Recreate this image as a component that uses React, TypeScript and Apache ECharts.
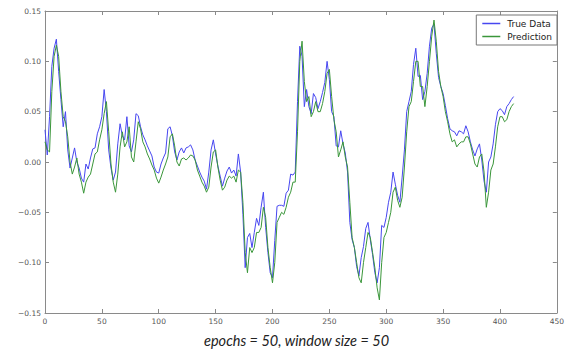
import React, { useEffect, useRef } from "react";
import * as echarts from "echarts";

const seriesNames = ["True Data", "Prediction"];
const sampleStep = 2; // one reading every 2 time steps, starting at 0
const caption = "epochs = 50, window size = 50";

const trueData = [
  0.032, 0.007, 0.045, 0.095, 0.113, 0.122, 0.09, 0.062, 0.035, 0.05,
  0.012, -0.006, 0.004, 0.014, 0.0, -0.006, -0.016, -0.02, -0.002, -0.007,
  0.004, 0.013, 0.014, 0.028, 0.035, 0.045, 0.072, 0.05, 0.012, -0.006,
  -0.018, -0.01, 0.018, 0.038, 0.026, 0.022, 0.045, 0.016, 0.01, 0.022,
  0.048, 0.046, 0.035, 0.027, 0.022, 0.016, 0.011, 0.006, -0.005, -0.01,
  -0.011, -0.002, 0.004, 0.009, 0.033, 0.035, 0.026, 0.01, 0.002, 0.01,
  0.014, 0.009, 0.014, 0.015, 0.017, 0.012, 0.002, -0.004, -0.01, -0.015,
  -0.019, -0.027, -0.01, 0.012, 0.022, 0.008, -0.004, -0.014, -0.024, -0.016,
  -0.009, -0.005, -0.011, -0.008, -0.014, 0.008, -0.01, -0.052, -0.105, -0.075,
  -0.071, -0.085, -0.07, -0.056, -0.063, -0.045, -0.03, -0.065, -0.09, -0.11,
  -0.115, -0.078, -0.044, -0.043, -0.043, -0.044, -0.031, -0.028, -0.012, -0.013,
  -0.01, 0.06, 0.115, 0.105, 0.055, 0.072, 0.055, 0.048, 0.068, 0.064,
  0.053, 0.06, 0.069, 0.079, 0.1, 0.082, 0.05, 0.045, 0.016, 0.015,
  0.031, 0.018, 0.009, -0.01, -0.06, -0.077, -0.085, -0.104, -0.113, -0.095,
  -0.084, -0.066, -0.06, -0.077, -0.092, -0.11, -0.12, -0.105, -0.063, -0.065,
  -0.055, -0.04, -0.03, -0.01, -0.022, -0.033, -0.04, -0.015, 0.012, 0.05,
  0.06, 0.07, 0.097, 0.113, 0.085, 0.086, 0.062, 0.07, 0.088, 0.115,
  0.133, 0.137, 0.108, 0.084, 0.075, 0.068, 0.056, 0.043, 0.033, 0.031,
  0.03, 0.026, 0.031, 0.03, 0.028, 0.036, 0.03, 0.02, 0.012, 0.006,
  0.013, 0.018, 0.002, -0.019, -0.03, 0.0, 0.005, 0.018, 0.037, 0.05,
  0.053, 0.051, 0.047, 0.055, 0.058, 0.062, 0.065,
];

const prediction = [
  0.02, 0.012, 0.01, 0.07, 0.105, 0.116, 0.105, 0.07, 0.045, 0.04,
  0.025, 0.0, -0.012, -0.005, 0.004, -0.012, -0.02, -0.031, -0.02, -0.015,
  -0.012, -0.002, 0.008, 0.01, 0.022, 0.032, 0.048, 0.06, 0.03, -0.002,
  -0.02, -0.03, -0.012, 0.015, 0.03, 0.015, 0.02, 0.035, 0.005, 0.0,
  0.02, 0.04, 0.033, 0.02, 0.015, 0.008, 0.003, -0.003, -0.008, -0.016,
  -0.021, -0.015, -0.008, -0.002, 0.005, 0.025, 0.028, 0.016, 0.0, -0.004,
  0.003, 0.004, 0.002, 0.004, 0.007, 0.006, 0.002, -0.008, -0.014, -0.02,
  -0.024, -0.03, -0.025, -0.005, 0.01, 0.012, -0.005, -0.018, -0.028, -0.025,
  -0.018, -0.014, -0.016, -0.014, -0.02, -0.008, -0.01, -0.04, -0.09, -0.11,
  -0.085, -0.09, -0.085, -0.07, -0.07, -0.065, -0.045, -0.055, -0.085, -0.105,
  -0.12, -0.1, -0.06, -0.055, -0.05, -0.052, -0.045, -0.035, -0.03, -0.02,
  -0.02, 0.03, 0.1, 0.12, 0.08, 0.06, 0.065, 0.045, 0.05, 0.06,
  0.05, 0.05, 0.058, 0.07, 0.088, 0.092, 0.065, 0.042, 0.03, 0.005,
  0.012, 0.02, 0.005, -0.005, -0.04, -0.075, -0.085, -0.1, -0.115, -0.12,
  -0.1, -0.085, -0.07, -0.075, -0.09, -0.105, -0.125, -0.137, -0.1, -0.075,
  -0.07, -0.06, -0.05, -0.03, -0.025, -0.038, -0.045, -0.035, -0.005, 0.03,
  0.055, 0.06, 0.08, 0.1, 0.1, 0.075, 0.075, 0.055, 0.075, 0.1,
  0.125, 0.141, 0.12, 0.09, 0.075, 0.065, 0.05, 0.04, 0.028, 0.02,
  0.022, 0.015, 0.018, 0.02, 0.02, 0.025, 0.025, 0.018, 0.008, -0.002,
  -0.005, 0.005, 0.008, -0.01, -0.045, -0.03, -0.008, -0.002, 0.015, 0.035,
  0.045, 0.045, 0.04, 0.042, 0.05, 0.055, 0.058,
];

const xMin = 0;
const xMax = 450;
const xInterval = 50;
const yMin = -0.15;
const yMax = 0.15;
const yInterval = 0.05;

const fmtY = (v: number) => {
  const s = Math.abs(v).toFixed(2);
  return v < -1e-9 ? "\u2212" + s : s;
};

export default function App() {
  const ref = useRef<HTMLDivElement>(null);
  useEffect(() => {
    if (!ref.current) return;
    const chart = echarts.init(ref.current, null, { renderer: "svg" });
    const toPairs = (arr: number[]) => arr.map((v, i) => [i * sampleStep, v]);
    const axisCommon = {
      type: "value" as const,
      splitLine: { show: false },
      axisLine: { show: true, onZero: false, lineStyle: { color: "#8a8a8a", width: 1 } },
      axisTick: { show: true, inside: true, length: 4, lineStyle: { color: "#8a8a8a" } },
    };
    const labelStyle = { fontFamily: "DejaVu Sans", fontSize: 7.5, color: "#555" };
    chart.setOption({
      animation: false,
      backgroundColor: "#ffffff",
      grid: { left: 45, right: 5, top: 11, bottom: 40, containLabel: false },
      legend: {
        orient: "vertical",
        right: 10,
        top: 15,
        data: seriesNames.map((n) => ({ name: n, icon: "rect" })),
        itemWidth: 18,
        itemHeight: 1.5,
        itemGap: 4,
        padding: [4, 5, 4, 6],
        borderColor: "#777",
        borderWidth: 1,
        backgroundColor: "#fff",
        textStyle: { fontFamily: "DejaVu Sans", fontSize: 9, color: "#222", padding: [0, 0, 0, 2] },
      },
      xAxis: [
        {
          ...axisCommon,
          position: "bottom",
          min: xMin,
          max: xMax,
          interval: xInterval,
          axisLabel: { ...labelStyle, margin: 4 },
        },
        {
          ...axisCommon,
          position: "top",
          min: xMin,
          max: xMax,
          interval: xInterval,
          axisLabel: { show: false },
        },
      ],
      yAxis: [
        {
          ...axisCommon,
          position: "left",
          min: yMin,
          max: yMax,
          interval: yInterval,
          axisLabel: { ...labelStyle, margin: 4, formatter: fmtY },
        },
        {
          ...axisCommon,
          position: "right",
          min: yMin,
          max: yMax,
          interval: yInterval,
          axisLabel: { show: false },
        },
      ],
      series: [
        {
          name: seriesNames[0],
          type: "line",
          data: toPairs(trueData),
          showSymbol: false,
          symbol: "none",
          lineStyle: { color: "#4747f0", width: 1 },
          itemStyle: { color: "#4747f0" },
        },
        {
          name: seriesNames[1],
          type: "line",
          data: toPairs(prediction),
          showSymbol: false,
          symbol: "none",
          lineStyle: { color: "#3a963a", width: 1 },
          itemStyle: { color: "#3a963a" },
        },
      ],
      graphic: [
        {
          type: "text",
          left: 204,
          top: 333,
          style: {
            text: caption,
            fontFamily: "Lato",
            fontStyle: "italic",
            fontSize: 14.5,
            fill: "#222",
          },
        },
      ],
    });
    return () => chart.dispose();
  }, []);
  return (
    <div
      ref={ref}
      style={{ position: "fixed", left: 0, top: 0, width: 567, height: 353, background: "#fff" }}
    />
  );
}
